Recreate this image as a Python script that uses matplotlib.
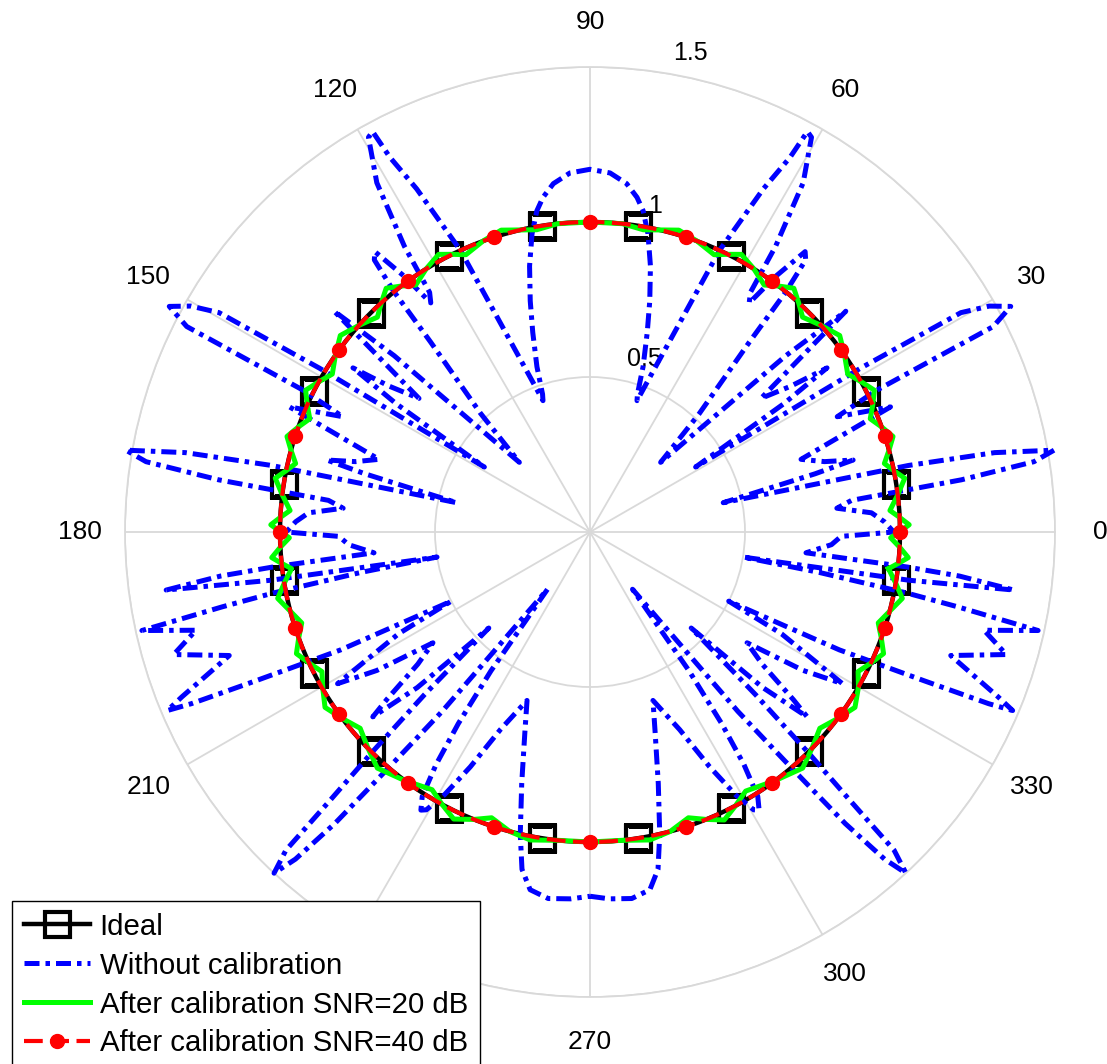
import numpy as np
import matplotlib
matplotlib.use("Agg")
import matplotlib.pyplot as plt

plt.rcParams["font.family"] = ["Liberation Sans", "DejaVu Sans"]

# ticks (240 sits under the legend, as in the original)
theta_ticks = [0, 30, 60, 90, 120, 150, 180, 210, 240, 270, 300, 330]
theta_shown = [0, 30, 60, 90, 120, 150, 180, 210, 270, 300, 330]
r_ticks = [0.5, 1, 1.5]

# Without calibration: angle (deg) and radius
blue_theta = [
    -90, -87, -83.5, -80.5, -78.6, -77, -74.8, -72, -69.5, -65.6, -63, -61,
    -59.5, -58.7, -57.6, -56.5, -55.5, -54.5, -53.4, -50.5, -49.5, -48.8, -48.0,
    -47.2, -46.3, -45.9, -45.3, -44.5, -43.5, -42, -40.4, -39.5, -37.5, -35.2,
    -33, -31, -30, -28, -26.5, -25.3, -24.0, -23.3, -22.9, -22.0, -18.9, -16.4,
    -14.0, -12.4, -11.5, -10.9, -10.0, -9.3, -8.6, -7.8, -6.8, -6.3, -5.5, -3.0,
    -1.0, 0.0, 2.0, 3.9, 5.5, 6.9, 8.0, 9.0, 10.0, 11.1, 11.8, 12.4, 14.5, 15.3,
    16.7, 19.0, 22.6, 25.0, 26.3, 27.0, 28.2, 29.5, 30.6, 31.2, 31.6, 33.5, 34.7,
    36.0, 38.0, 40.8, 42.0, 44.6, 47.3, 50.0, 50.8, 51.6, 52.5, 54.0, 55.2, 56.2,
    57.0, 58.6, 60.7, 61.5, 61.9, 63.2, 65.3, 66.6, 68.8, 70.3, 71.0, 72.2, 74.0,
    75.5, 77.2, 79.0, 80.6, 82.0, 84.0, 86.8, 90.0,
    93.2, 96.0, 98.0, 99.4, 101.0, 102.8, 104.5, 106.0, 107.8, 109.0, 109.7,
    111.2, 113.4, 114.7, 116.8, 118.1, 118.5, 119.3, 121.4, 123.0, 123.8, 124.8,
    126.0, 127.5, 128.4, 129.2, 130.0, 132.7, 135.4, 138.0, 139.2, 142.0, 144.0,
    145.3, 146.5, 148.4, 148.8, 149.4, 150.5, 151.8, 153.0, 153.7, 155.0, 157.4,
    161.0, 163.3, 164.7, 165.5, 167.6, 168.2, 168.9, 170.0, 171.0, 172.0, 173.1,
    174.5, 176.1, 178.0, 180.0, 181.0, 183.0, 185.5, 186.3, 186.8, 187.8, 188.6,
    189.3, 190.0, 190.9, 191.5, 192.4, 194.0, 196.4, 198.9, 202.0, 202.9, 203.3,
    204.0, 205.3, 206.5, 208, 210, 211, 213, 215.2, 217.5, 219.5, 220.4, 222,
    223.5, 224.5, 225.3, 225.9, 226.3, 227.2, 228.0, 228.8, 229.5, 230.5, 233.4,
    234.5, 235.5, 236.5, 237.6, 238.7, 239.5, 241, 243, 245.6, 249.5, 252, 254.8,
    257, 258.6, 260.5, 263.5, 267, 270,
]
blue_r = [
    1.175, 1.185, 1.19, 1.17, 1.11, 1.00, 0.84, 0.68, 0.58, 0.70, 0.85, 0.97,
    1.04, 1.05, 1.01, 0.90, 0.75, 0.55, 0.23, 0.75, 1.00, 1.25, 1.42,
    1.50, 1.42, 1.20, 1.00, 0.75, 0.45, 0.75, 0.92, 0.85, 0.70, 0.62,
    0.82, 0.95, 0.85, 0.70, 0.50, 0.89, 1.18, 1.40, 1.48, 1.42, 1.23, 1.40,
    1.31, 1.48, 1.21, 1.04, 0.75, 0.50, 1.04, 1.38, 1.20, 1.03, 0.70, 0.78,
    0.81, 0.98, 0.95, 0.91, 0.80, 0.85, 1.21, 1.45, 1.52, 1.33, 1.05, 0.44, 0.75, 0.88,
    0.79, 0.72, 1.05, 0.88, 1.03, 1.46, 1.54, 1.48, 1.39, 1.02, 0.40, 0.75, 0.93,
    0.80, 0.70, 1.09, 0.85, 0.32, 0.52, 0.80, 1.00, 1.12, 1.14, 1.02, 0.90, 0.93,
    1.10, 1.32, 1.46, 1.47, 1.37, 1.24, 1.00, 0.76, 0.54, 0.45, 0.47, 0.56, 0.67,
    0.77, 0.88, 0.98, 1.05, 1.09, 1.13, 1.16, 1.17,
    1.16, 1.13, 1.09, 1.05, 0.98, 0.88, 0.77, 0.67, 0.56, 0.47, 0.45,
    0.54, 0.76, 1.00, 1.24, 1.37, 1.47, 1.46, 1.32, 1.10, 0.93, 0.90,
    1.02, 1.14, 1.12, 1.00, 0.80, 0.52, 0.32, 0.85, 1.09, 0.70, 0.80,
    0.93, 0.75, 0.40, 1.02, 1.39, 1.48, 1.54, 1.46, 1.03, 0.88, 1.05,
    0.72, 0.79, 0.88, 0.75, 0.44, 1.05, 1.33, 1.52, 1.45, 1.21, 0.85,
    0.80, 0.91, 0.95, 0.98, 0.81, 0.78, 0.70, 1.03, 1.20, 1.38, 1.04,
    0.50, 0.75, 1.04, 1.21, 1.48, 1.31, 1.40, 1.23, 1.42, 1.48, 1.40,
    1.18, 0.89, 0.50, 0.70, 0.85, 0.95, 0.82, 0.62, 0.70, 0.85, 0.92, 0.75,
    0.45, 0.75, 1.00, 1.20, 1.42, 1.50, 1.42, 1.25, 1.00, 0.75, 0.23,
    0.55, 0.75, 0.90, 1.01, 1.05, 1.04, 0.97, 0.85, 0.70, 0.58, 0.68, 0.84,
    1.00, 1.11, 1.17, 1.19, 1.185, 1.175,
]

# After calibration SNR=20 dB
green_theta = [
    -7.0, -5.8, -4.6, -2.8, -1.1, 0.1, 1.3, 2.7, 4.1, 6.9, 9.7, 11.4, 13.1, 15.3,
    17.5, 19.8, 22.0, 24.2, 26.5, 29.0, 31.5, 34.8, 38.2, 41.8, 45.3, 47.7, 50.1,
    52.5, 54.8, 58.1, 61.4, 63.6, 65.9, 69.8, 73.6, 77.0, 80.0, 84.0, 90.0,
    96.0, 100.0, 103.0, 106.4, 110.2, 114.1, 116.4, 118.6, 121.9, 125.2, 127.5,
    129.9, 132.3, 134.7, 138.2, 141.8, 145.2, 148.5, 151.0, 153.5, 155.8, 158.0,
    160.2, 162.5, 164.7, 166.9, 168.6, 170.3, 173.1, 175.9, 177.3, 178.7, 179.9,
    181.1, 182.8, 184.6, 185.8, 187.0, 189.5, 192.0, 194.8, 197.5, 200.0, 202.5,
    205.0, 207.5, 210.5, 213.5, 217.0, 220.5, 224.3, 228.0, 233.3, 238.5, 241.5,
    244.6, 248.0, 251.0, 255.0, 259.0, 264.0, 270.0, 276.0, 281.0, 285.0, 289.0,
    292.0, 295.0, 298.0, 301.0, 306.7, 312.0, 315.7, 319.5, 323.0, 326.5, 330.0,
    332.5, 335.0, 337.5, 340.0, 342.5, 345.2, 348.0, 350.5, 353.0,
]
green_r = [
    0.97, 1.0, 1.03, 1.0, 0.97, 1.0, 1.03, 1.0, 0.97, 1.0, 1.03, 1.0, 0.975, 1.0,
    1.025, 1.0, 0.975, 1.0, 1.025, 1.0, 0.975, 1.0, 1.025, 1.0, 0.975, 1.0, 1.025,
    1.0, 0.975, 1.0, 1.02, 1.0, 0.98, 1.0, 1.015, 1.0, 0.99, 1.0, 1.0,
    1.0, 0.99, 1.0, 1.015, 1.0, 0.98, 1.0, 1.02, 1.0, 0.975, 1.0,
    1.025, 1.0, 0.975, 1.0, 1.025, 1.0, 0.975, 1.0, 1.025, 1.0, 0.975,
    1.0, 1.025, 1.0, 0.975, 1.0, 1.03, 1.0, 0.97, 1.0, 1.03, 1.0,
    0.97, 1.0, 1.03, 1.0, 0.97, 1.0, 1.03, 1.0, 0.975, 1.0, 1.025,
    1.0, 0.975, 1.0, 1.025, 1.0, 0.975, 1.0, 1.025, 1.0, 0.975, 1.0,
    1.025, 1.0, 0.975, 1.0, 1.012, 1.0, 1.0, 1.0, 1.012, 1.0, 0.975,
    1.0, 1.025, 1.0, 0.975, 1.0, 1.025, 1.0, 0.975, 1.0, 1.025, 1.0,
    0.975, 1.0, 1.025, 1.0, 0.975, 1.0, 1.03, 1.0, 0.97,
]

# Ideal and SNR=40 dB both sit on the unit circle
circle_theta = np.arange(0, 361, 1)
ideal_r = np.ones(len(circle_theta))
red_r = np.ones(len(circle_theta))
ideal_marker_theta = [9, 27, 45, 63, 81, 99, 117, 135, 153, 171, 189, 207, 225,
                      243, 261, 279, 297, 315, 333, 351]
red_marker_theta = [0, 18, 36, 54, 72, 90, 108, 126, 144, 162, 180, 198, 216,
                    234, 252, 270, 288, 306, 324, 342]

fig = plt.figure(figsize=(11.07, 10.64), dpi=100)
ax = fig.add_axes([125 / 1107, 67 / 1064, 930 / 1107, 930 / 1064], projection="polar")

grid_c = "#d9d9d9"
ax.set_rlim(0, 1.5)
ax.set_thetagrids(theta_ticks, labels=[""] * len(theta_ticks))
ax.set_rgrids(r_ticks, labels=[""] * len(r_ticks))
ax.grid(True, color=grid_c, linewidth=1.3)
ax.spines["polar"].set_color(grid_c)
ax.spines["polar"].set_linewidth(1.3)
ax.tick_params(length=0)

ideal_line, = ax.plot(np.deg2rad(circle_theta), ideal_r, color="black", lw=3.2,
                      marker="s", markersize=18, markeredgewidth=3,
                      markerfacecolor="none", markevery=ideal_marker_theta,
                      label="Ideal", zorder=3)
blue_line, = ax.plot(np.deg2rad(blue_theta), blue_r, color=(0, 0, 1), lw=3.6,
                     linestyle=(0, (3.0, 1.2, 0.9, 1.2)), clip_on=False,
                     label="Without calibration", zorder=4)
green_line, = ax.plot(np.deg2rad(green_theta + [green_theta[0] + 360]),
                      green_r + [green_r[0]], color=(0, 1, 0), lw=3.6,
                      solid_joinstyle="round",
                      label="After calibration SNR=20 dB", zorder=5)
red_line, = ax.plot(np.deg2rad(circle_theta), red_r, color=(1, 0, 0), lw=3.0,
                    linestyle=(0, (4.5, 1.8)), marker="o", markersize=10,
                    markevery=red_marker_theta,
                    label="After calibration SNR=40 dB", zorder=6)

for a in theta_shown:
    ax.text(np.deg2rad(a), 1.645, str(a), ha="center", va="center", fontsize=19)

r_label_pos = [(77.4, 0.55), (79.7, 1.046), (80.0, 1.546)]
for (a, rr), t in zip(r_label_pos, ["0.5", "1", "1.5"]):
    ax.text(np.deg2rad(a), rr, t, ha="left", va="baseline", fontsize=18)

leg = fig.legend(handles=[ideal_line, blue_line, green_line, red_line],
                 loc="upper left", bbox_to_anchor=(12 / 1107, 1 - 901 / 1064),
                 bbox_transform=fig.transFigure, fontsize=21.2, fancybox=False,
                 framealpha=1, edgecolor="black", borderaxespad=0,
                 borderpad=0.4, handlelength=2.25, handletextpad=0.33,
                 labelspacing=0.37)
leg.get_frame().set_linewidth(1.0)

fig.savefig("out.png", dpi=100)
